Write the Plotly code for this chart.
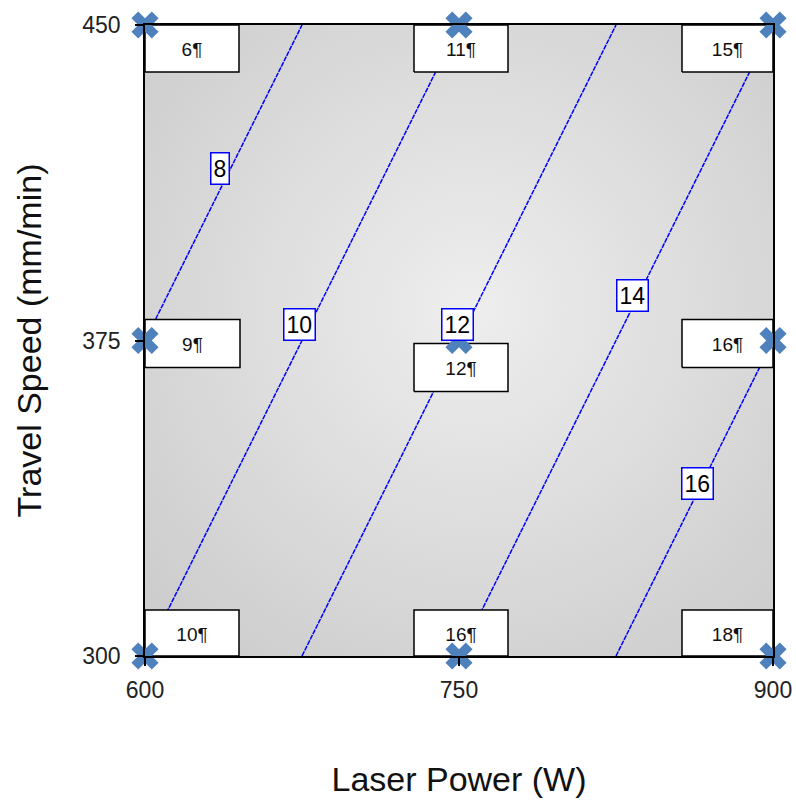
import base64
import plotly.graph_objects as go

# ---------------- data ----------------
laser_power = [600, 750, 900]
travel_speed = [300, 375, 450]
# fitted response surface values (rows follow travel_speed)
fitted = [
    [10, 14, 18],
    [8, 12, 16],
    [6, 10, 14],
]
contour_levels = [8, 10, 12, 14, 16]

# design points and observed responses
pt_power = [600, 750, 900, 600, 750, 900, 600, 750, 900]
pt_speed = [450, 450, 450, 375, 375, 375, 300, 300, 300]
pt_value = [6, 11, 15, 9, 12, 16, 10, 16, 18]

# contour label positions
label_power = [636, 674, 749.5, 832.7, 863.7]
label_speed = [416, 378.7, 378.7, 385.8, 341.1]

# ---------------- geometry / style ----------------
W, H = 796, 802
ML, MR, MT, MB = 145, 23, 25, 146
PW, PH = W - ML - MR, H - MT - MB
xr, yr = [600, 900], [300, 450]
kx = (xr[1] - xr[0]) / PW  # data units per px
ky = (yr[1] - yr[0]) / PH

# box offsets in pixels relative to point: (left, right, bottom, top), up positive
box_px = [
    (0, 94, -47, 0), (-45, 49, -47, 0), (-91, 0, -47, 0),
    (0, 95, -27, 21), (-45, 49, -51, -3), (-91, 0, -27, 21),
    (0, 94, 0, 46), (-45, 49, 0, 46), (-91, 0, 0, 46),
]

bx, by, tx, ty, tt = [], [], [], [], []
for p, s, v, (l, r, b, t) in zip(pt_power, pt_speed, pt_value, box_px):
    x0, x1 = p + l * kx, p + r * kx
    y0, y1 = s + b * ky, s + t * ky
    bx += [x0, x1, x1, x0, x0, None]
    by += [y0, y0, y1, y1, y0, None]
    tx.append((x0 + x1) / 2)
    ty.append((y0 + y1) / 2 - 3 * ky)
    tt.append(f"{v}¶")

svg = ('<svg xmlns="http://www.w3.org/2000/svg" width="100" height="100" '
       'viewBox="0 0 100 100" preserveAspectRatio="none"><defs>'
       '<radialGradient id="g" cx="0.52" cy="0.45" r="0.68">'
       '<stop offset="0" stop-color="#eeeeee"/><stop offset="1" stop-color="#cdcdcd"/>'
       '</radialGradient></defs><rect width="100" height="100" fill="url(#g)"/></svg>')
svg_uri = "data:image/svg+xml;base64," + base64.b64encode(svg.encode()).decode()

FONT = "Liberation Sans"

fig = go.Figure()
fig.add_trace(go.Contour(
    x=laser_power, y=travel_speed, z=fitted,
    contours=dict(coloring="none", start=contour_levels[0], end=contour_levels[-1],
                  size=contour_levels[1] - contour_levels[0], showlabels=False),
    line=dict(color="#0000ff", width=1.5, dash="5px,1px"),
    showscale=False, hoverinfo="skip",
))
fig.add_trace(go.Scatter(
    x=bx, y=by, mode="lines", fill="toself", fillcolor="white",
    line=dict(color="black", width=1.5), hoverinfo="skip", showlegend=False,
))
fig.add_trace(go.Scatter(
    x=tx, y=ty, mode="text", text=tt,
    textfont=dict(family=FONT, size=19, color="#111"), hoverinfo="skip", showlegend=False,
))
fig.add_trace(go.Scatter(
    x=pt_power, y=pt_speed, mode="markers", cliponaxis=False,
    marker=dict(symbol="x", size=24, color="#4f81bd", line=dict(width=0)),
    showlegend=False,
))

for lp, ls, lv in zip(label_power, label_speed, contour_levels):
    fig.add_annotation(x=lp, y=ls, text=str(lv), showarrow=False,
                       font=dict(family=FONT, size=23, color="black"),
                       bgcolor="white", bordercolor="#0000ff", borderwidth=1.5, borderpad=2)

fig.update_layout(
    width=W, height=H,
    margin=dict(l=ML, r=MR, t=MT, b=MB, autoexpand=False),
    paper_bgcolor="white", plot_bgcolor="#dcdcdc",
    showlegend=False,
    images=[dict(source=svg_uri, xref="x", yref="y", x=600, y=450, sizex=300, sizey=150,
                 sizing="stretch", xanchor="left", yanchor="top", layer="below")],
)
axis_common = dict(showgrid=False, zeroline=False, showline=True, mirror=True,
                   linecolor="black", linewidth=1.5, ticks="outside", ticklen=8,
                   tickwidth=1.5, tickcolor="black", ticklabeloverflow="allow",
                   automargin=False,
                   tickfont=dict(family=FONT, size=23, color="#222"))
fig.update_xaxes(range=xr, tickvals=laser_power, ticklabelstandoff=5, **axis_common,
                 title=dict(text="Laser Power (W)", font=dict(family=FONT, size=34, color="#111"),
                            standoff=65))
fig.update_yaxes(range=yr, tickvals=travel_speed, ticklabelstandoff=10, **axis_common,
                 title=dict(text="Travel Speed (mm/min)", font=dict(family=FONT, size=34, color="#111"),
                            standoff=30))

fig.write_html("out.html", config={"displayModeBar": False},
               post_script="document.body.style.margin='0';document.body.style.overflow='hidden';")
